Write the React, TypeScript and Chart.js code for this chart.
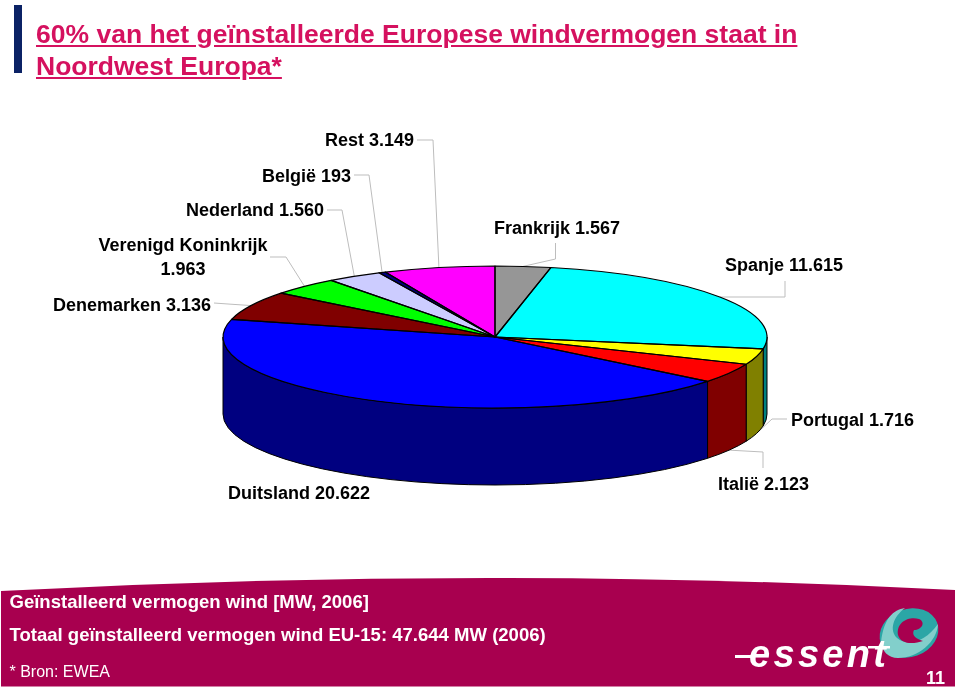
import React, { useEffect, useRef } from "react";
import { Chart, registerables } from "chart.js";

Chart.register(...registerables);

const countries = ["Frankrijk", "Spanje", "Portugal", "Italië", "Duitsland", "Denemarken", "Verenigd Koninkrijk", "Nederland", "België", "Rest"];
const capacity = [1567, 11615, 1716, 2123, 20622, 3136, 1963, 1560, 193, 3149];
const capacityText = ["1.567", "11.615", "1.716", "2.123", "20.622", "3.136", "1.963", "1.560", "193", "3.149"];
const topColors = ["#969696", "#00FFFF", "#FFFF00", "#FF0000", "#0000FF", "#800000", "#00FF00", "#CCCCFF", "#000080", "#FF00FF"];
const sideColors = ["#4B4B4B", "#008080", "#808000", "#800000", "#000080", "#400000", "#008000", "#666680", "#000040", "#800080"];

const PIE_CY = 337;
const PIE_RY = 71;
const DEPTH = 77;
const FONT = '"Liberation Sans", Arial, sans-serif';

// label placement: text anchor + leader elbow points (the leader's end comes from the slice's mid angle)
type Place = { x: number; y: number; align: CanvasTextAlign; two?: boolean; elbow: number[][]; front?: boolean };
const places: Place[] = [
  { x: 494, y: 229, align: "left", elbow: [[555.5, 243], [555.5, 259]] },
  { x: 725, y: 266, align: "left", elbow: [[785, 281], [785, 297]] },
  { x: 791, y: 421, align: "left", elbow: [[787, 419], [772, 419]], front: true },
  { x: 718, y: 485, align: "left", elbow: [[763, 468], [763, 452]], front: true },
  { x: 228, y: 494, align: "left", elbow: [] },
  { x: 211, y: 306, align: "right", elbow: [[214, 303], [228, 304]] },
  { x: 183, y: 246, align: "center", two: true, elbow: [[270, 257], [286, 257]] },
  { x: 324, y: 211, align: "right", elbow: [[327, 210], [342, 210]] },
  { x: 351, y: 177, align: "right", elbow: [[354, 175], [369, 175]] },
  { x: 414, y: 141, align: "right", elbow: [[417, 140], [433, 140]] },
];

const pie3d = {
  id: "pie3d",
  beforeDatasetsDraw(chart: any) {
    const ctx: CanvasRenderingContext2D = chart.ctx;
    const arcs = chart.getDatasetMeta(0).data;
    const cx = arcs[0].x;
    const rx = arcs[0].outerRadius;

    // leader lines sit behind the pie
    ctx.save();
    ctx.strokeStyle = "#BDBDBD";
    ctx.lineWidth = 1;
    arcs.forEach((arc: any, i: number) => {
      const p = places[i];
      if (!p.elbow.length) return;
      const mid = (arc.startAngle + arc.endAngle) / 2;
      ctx.beginPath();
      p.elbow.forEach(([x, y], k) => (k ? ctx.lineTo(x, y) : ctx.moveTo(x, y)));
      ctx.lineTo(cx + rx * Math.cos(mid), PIE_CY + PIE_RY * Math.sin(mid) + (p.front ? DEPTH : 0));
      ctx.stroke();
    });
    ctx.restore();

    // extruded wall: front half of the rim
    ctx.save();
    ctx.lineWidth = 1;
    ctx.strokeStyle = "#000000";
    arcs.forEach((arc: any, i: number) => {
      const twoPi = Math.PI * 2;
      let a = arc.startAngle;
      let b = arc.endAngle;
      while (b > twoPi) { a -= twoPi; b -= twoPi; }
      const from = Math.max(a, 0);
      const to = Math.min(b, Math.PI);
      if (to <= from) return;
      ctx.beginPath();
      ctx.ellipse(cx, PIE_CY, rx, PIE_RY, 0, from, to);
      ctx.ellipse(cx, PIE_CY + DEPTH, rx, PIE_RY, 0, to, from, true);
      ctx.closePath();
      ctx.fillStyle = sideColors[i];
      ctx.fill();
      ctx.stroke();
    });
    ctx.restore();

    // flatten the library's own arcs into the top ellipse
    ctx.save();
    ctx.translate(0, PIE_CY);
    ctx.scale(1, PIE_RY / rx);
    ctx.translate(0, -arcs[0].y);
  },
  afterDatasetsDraw(chart: any) {
    const ctx: CanvasRenderingContext2D = chart.ctx;
    ctx.restore();
    const arcs = chart.getDatasetMeta(0).data;
    const cx = arcs[0].x;
    const rx = arcs[0].outerRadius;

    ctx.save();
    ctx.strokeStyle = "#000000";
    ctx.lineWidth = 1.2;
    ctx.lineJoin = "round";
    arcs.forEach((arc: any) => {
      ctx.beginPath();
      ctx.moveTo(cx, PIE_CY);
      ctx.ellipse(cx, PIE_CY, rx, PIE_RY, 0, arc.startAngle, arc.endAngle);
      ctx.closePath();
      ctx.stroke();
    });

    ctx.fillStyle = "#000000";
    ctx.font = `bold 18px ${FONT}`;
    ctx.textBaseline = "middle";
    countries.forEach((name, i) => {
      const p = places[i];
      ctx.textAlign = p.align;
      if (p.two) {
        ctx.fillText(name, p.x, p.y);
        ctx.fillText(capacityText[i], p.x, p.y + 24);
      } else {
        ctx.fillText(`${name} ${capacityText[i]}`, p.x, p.y);
      }
    });
    ctx.restore();
  },
};

export default function App() {
  const ref = useRef<HTMLCanvasElement>(null);
  useEffect(() => {
    const chart = new Chart(ref.current as HTMLCanvasElement, {
      type: "pie",
      data: {
        labels: countries,
        datasets: [{ data: capacity, backgroundColor: topColors, borderWidth: 0 }],
      },
      options: {
        responsive: false,
        animation: false,
        layout: { padding: { left: 223, right: 193, top: 65, bottom: 81 } },
        plugins: { legend: { display: false }, tooltip: { enabled: false } },
      },
      plugins: [pie3d],
    } as any);
    return () => chart.destroy();
  }, []);

  return (
    <div style={{ position: "fixed", left: 0, top: 0, width: 960, height: 690, background: "#fff", overflow: "hidden", fontFamily: FONT }}>
      <canvas ref={ref} width={960} height={690} style={{ position: "absolute", left: 0, top: 0, width: 960, height: 690 }} />
      <div style={{ position: "absolute", left: 14, top: 5, width: 8, height: 68, background: "#0B2265" }} />
      <div style={{ position: "absolute", left: 36, top: 18, width: 850, color: "#D5115F", fontSize: 26.5, fontWeight: "bold", lineHeight: "32px", textDecoration: "underline", whiteSpace: "nowrap" }}>
        60% van het geïnstalleerde Europese windvermogen staat in<br />Noordwest Europa*
      </div>
      <svg width={960} height={690} style={{ position: "absolute", left: 0, top: 0 }}>
        <path d="M1 591 Q 480 565.5 955 590 L 955 686.5 L 1 686.5 Z" fill="#A8004F" />
        <g fontFamily={FONT} fill="#FFFFFF">
          <text x={9.5} y={608} fontSize={18.55} fontWeight="bold">Geïnstalleerd vermogen wind [MW, 2006]</text>
          <text x={9.5} y={641} fontSize={18.55} fontWeight="bold">Totaal geïnstalleerd vermogen wind EU-15: 47.644 MW (2006)</text>
          <text x={9.5} y={677} fontSize={16}>* Bron: EWEA</text>
          <text x={926} y={684} fontSize={18} fontWeight="bold">11</text>
        </g>
        <ellipse cx={909} cy={633} rx={30} ry={24} transform="rotate(-20 909 633)" fill="#2BA6A6" />
        <path d="M881 642 C 884 618 893 610 905 608 C 893 617 889 630 897 638 C 908 647 925 642 938 624 C 937 642 918 658 898 658 C 888 658 882 651 881 642 Z" fill="#82CFCB" />
        <path d="M898 635 C 896 622 909 616 919 619 C 926 622 922 630 914 630 C 911 636 917 639 923 641 C 914 644 901 645 898 635 Z" fill="#A8004F" />
        <rect x={735} y={655} width={18} height={3} fill="#FFFFFF" />
        <rect x={868} y={646} width={22} height={2.5} fill="#FFFFFF" />
        <text x={749} y={667} fontFamily={FONT} fontSize={38} fontStyle="italic" fontWeight="bold" fill="#FFFFFF" textLength={137} lengthAdjust="spacing">essent</text>
      </svg>
    </div>
  );
}
